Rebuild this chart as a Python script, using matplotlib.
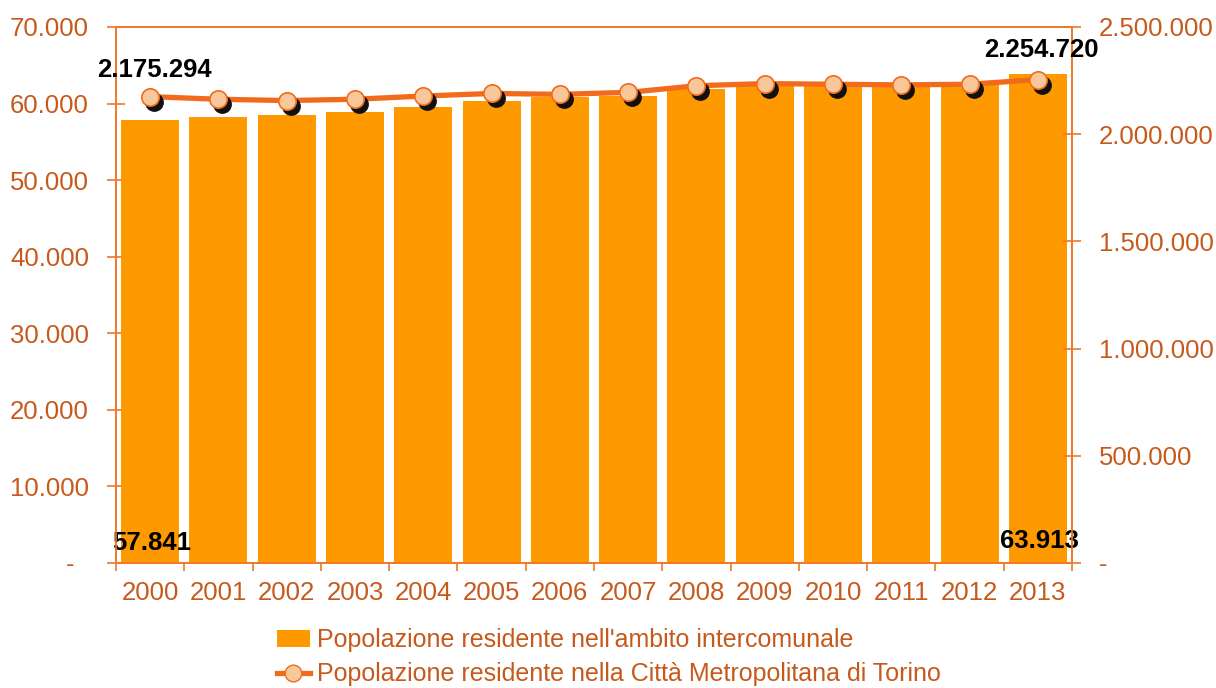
import matplotlib
matplotlib.use("Agg")
import matplotlib.pyplot as plt
import matplotlib.transforms as mtransforms
from matplotlib.patches import Patch
from matplotlib.lines import Line2D
import numpy as np

plt.rcParams['font.family'] = ['Liberation Sans', 'DejaVu Sans']

years = ["2000", "2001", "2002", "2003", "2004", "2005", "2006",
         "2007", "2008", "2009", "2010", "2011", "2012", "2013"]
pop_intercomunale = [57841, 58250, 58500, 58900, 59550, 60380, 60900,
                     60950, 61900, 62420, 62420, 62350, 62560, 63913]
pop_citta_metro = [2175294, 2163000, 2157000, 2163000, 2178000, 2190000, 2186000,
                   2195000, 2226000, 2236000, 2233000, 2230000, 2233000, 2254720]
left_ticks = [0, 10000, 20000, 30000, 40000, 50000, 60000, 70000]
left_labels = ["-  ", "10.000", "20.000", "30.000", "40.000", "50.000", "60.000", "70.000"]
right_ticks = [0, 500000, 1000000, 1500000, 2000000, 2500000]
right_labels = ["-", "500.000", "1.000.000", "1.500.000", "2.000.000", "2.500.000"]
legend_labels = ["Popolazione residente nell'ambito intercomunale",
                 "Popolazione residente nella Città Metropolitana di Torino"]

BAR = '#FF9900'
LINE = '#F26A1B'
SPINE = '#F07828'
TEXT = '#C65A1C'
MFACE = '#F9C89A'
FS = 18.5

fig = plt.figure(figsize=(12.16, 6.88), dpi=100)
ax = fig.add_axes([116/1216, 1-563/688, (1072-116)/1216, (563-27)/688])
ax2 = ax.twinx()

x = np.arange(len(years))
ax.bar(x, pop_intercomunale, width=0.85, color=BAR, zorder=2)
ax.set_xlim(-0.5, len(years) - 0.5)
ax.set_ylim(0, 70000)
ax.set_yticks(left_ticks)
ax.set_yticklabels(left_labels)
ax2.set_ylim(0, 2500000)
ax2.set_yticks(right_ticks)
ax2.set_yticklabels(right_labels)

ax.set_xticks(np.arange(-0.5, len(years), 1))
ax.set_xticklabels([])
ax.set_xticks(x, minor=True)
ax.set_xticklabels(years, minor=True)
ax.tick_params(axis='x', which='major', direction='out', length=6, color=SPINE, width=1.2)
ax.tick_params(axis='x', which='minor', length=0, pad=13, labelsize=FS, labelcolor=TEXT)
ax.tick_params(axis='y', direction='inout', length=13, color=SPINE, width=1.2,
               labelsize=FS, labelcolor=TEXT, pad=13)
ax2.tick_params(axis='y', direction='inout', length=13, color=SPINE, width=1.2,
                labelsize=FS, labelcolor=TEXT, pad=13)

for a in (ax, ax2):
    for s in a.spines.values():
        s.set_color(SPINE)
        s.set_linewidth(1.2)

# line with shadowed markers
ax2.plot(x, pop_citta_metro, color=LINE, lw=3.8, zorder=3)
shadow = mtransforms.offset_copy(ax2.transData, fig=fig, x=4, y=-5, units='dots')
ax2.plot(x, pop_citta_metro, ls='none', marker='o', ms=12.5, mfc='#111111',
         mec='#111111', transform=shadow, zorder=4)
ax2.plot(x, pop_citta_metro, ls='none', marker='o', ms=12.5, mfc=MFACE,
         mec=LINE, mew=1.2, zorder=5)

# data labels
def fmt(v):
    return f"{v:,}".replace(",", ".")

ax2.annotate(fmt(pop_citta_metro[0]), (x[0], pop_citta_metro[0]), xytext=(4, 27),
             textcoords='offset pixels', ha='center', va='center',
             fontsize=FS, fontweight='bold', color='black', zorder=6)
ax2.annotate(fmt(pop_citta_metro[-1]), (x[-1], pop_citta_metro[-1]), xytext=(4, 30),
             textcoords='offset pixels', ha='center', va='center',
             fontsize=FS, fontweight='bold', color='black', zorder=6)
ax.annotate(fmt(pop_intercomunale[0]), (x[0], 0), xytext=(2, 20),
            textcoords='offset pixels', ha='center', va='center',
            fontsize=FS, fontweight='bold', color='black', zorder=6)
ax.annotate(fmt(pop_intercomunale[-1]), (x[-1], 0), xytext=(2, 22),
            textcoords='offset pixels', ha='center', va='center',
            fontsize=FS, fontweight='bold', color='black', zorder=6)

handles = [Patch(facecolor=BAR, edgecolor='none'),
           Line2D([], [], color=LINE, lw=3.8, marker='o', ms=12, mfc=MFACE, mec=LINE)]
fig.legend(handles, legend_labels, loc='upper left',
           bbox_to_anchor=(277/1216, 1-628/688), frameon=False,
           fontsize=18, labelcolor=TEXT, handlelength=1.3, handletextpad=0.3,
           labelspacing=0.42, borderaxespad=0, borderpad=0)

fig.savefig("out.png", dpi=100)
